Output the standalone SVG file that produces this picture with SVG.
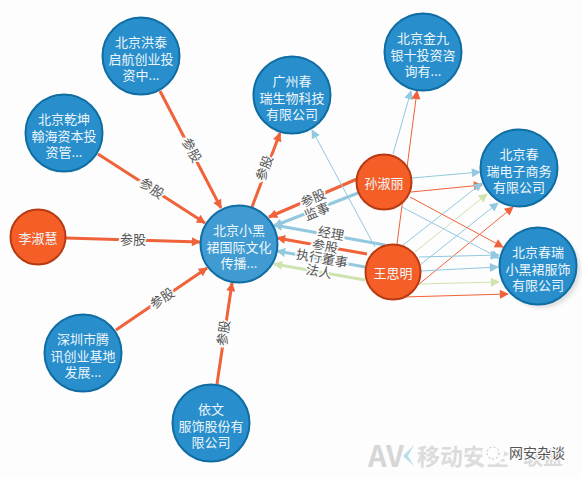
<svg xmlns="http://www.w3.org/2000/svg" width="582" height="478" viewBox="0 0 582 478">
<defs>
<marker id="ao" viewBox="0 0 10 10" refX="9" refY="5" markerWidth="11" markerHeight="9" markerUnits="userSpaceOnUse" orient="auto"><path d="M0 0L10 5L0 10z" fill="#f0623a"/></marker>
<marker id="ab" viewBox="0 0 10 10" refX="9" refY="5" markerWidth="11" markerHeight="9" markerUnits="userSpaceOnUse" orient="auto"><path d="M0 0L10 5L0 10z" fill="#93c8de"/></marker>
<marker id="ag" viewBox="0 0 10 10" refX="9" refY="5" markerWidth="11" markerHeight="9" markerUnits="userSpaceOnUse" orient="auto"><path d="M0 0L10 5L0 10z" fill="#cfe3b0"/></marker>
<filter id="sh" x="-20%" y="-20%" width="150%" height="150%"><feGaussianBlur stdDeviation="2"/></filter>
</defs>
<style>
text{font-family:"Noto Sans CJK SC","Liberation Sans",sans-serif;text-anchor:middle}
.co{fill:#288fcc;stroke:#0f6da3;stroke-width:2}
.pe{fill:#f55f27;stroke:#b83a12;stroke-width:2}
.nt{font-size:13px;fill:#eef6fb}
.lb{font-size:13px;fill:#555;stroke:#fdfdfd;stroke-width:3;paint-order:stroke}
.o{stroke:#f0623a;fill:none;marker-end:url(#ao)}
.b{stroke:#93c8de;fill:none;marker-end:url(#ab)}
.g{stroke:#cfe3b0;fill:none;marker-end:url(#ag)}
.t{stroke-width:1}.m{stroke-width:3}
</style>
<rect width="582" height="478" fill="#fdfdfd"/>
<g id="connectors">
<line class="o m" x1="160" y1="91" x2="221" y2="208"/>
<line class="o m" x1="98" y1="154" x2="205" y2="223"/>
<line class="o m" x1="66" y1="238" x2="200" y2="242"/>
<line class="o m" x1="116" y1="330" x2="207" y2="268"/>
<line class="o m" x1="217" y1="384" x2="232" y2="283"/>
<line class="o m" x1="252" y1="207" x2="280" y2="133"/>
<line class="o m" x1="357" y1="179" x2="269" y2="217"/>
<line class="b m" x1="358" y1="193" x2="274" y2="226"/>
<line class="b m" x1="385" y1="245" x2="274" y2="225"/>
<line class="o m" x1="367" y1="254" x2="277" y2="238"/>
<line class="b m" x1="365" y1="267" x2="277" y2="251"/>
<line class="g m" x1="365" y1="280" x2="274" y2="264"/>
<line class="b t" x1="375" y1="247" x2="312" y2="130"/>
<line class="b t" x1="393" y1="154" x2="411" y2="91"/>
<line class="o t" x1="397" y1="244" x2="417" y2="91"/>
<line class="b t" x1="412" y1="178" x2="480" y2="172"/>
<line class="o t" x1="411" y1="192" x2="482" y2="185"/>
<line class="b t" x1="403" y1="245" x2="482" y2="183"/>
<line class="g t" x1="415" y1="252" x2="487" y2="194"/>
<line class="b t" x1="420" y1="265" x2="498" y2="203"/>
<line class="o t" x1="418" y1="285" x2="513" y2="207"/>
<line class="o t" x1="410" y1="197" x2="503" y2="247"/>
<line class="b t" x1="402" y1="207" x2="499" y2="258"/>
<line class="b t" x1="419" y1="257" x2="499" y2="255"/>
<line class="b t" x1="420" y1="271" x2="498" y2="267"/>
<line class="g t" x1="419" y1="284" x2="499" y2="282"/>
<line class="o t" x1="403" y1="297" x2="508" y2="294"/>
</g>
<g id="edge-labels">
<text class="lb" transform="translate(192 150) rotate(62)" y="5">参股</text>
<text class="lb" transform="translate(152 188) rotate(33)" y="5">参股</text>
<text class="lb" x="133" y="244">参股</text>
<text class="lb" transform="translate(162 298) rotate(-34)" y="5">参股</text>
<text class="lb" transform="translate(223 333) rotate(-82)" y="5">参股</text>
<text class="lb" transform="translate(264 168) rotate(-70)" y="5">参股</text>
<text class="lb" transform="translate(313 198) rotate(-24)" y="5">参股</text>
<text class="lb" transform="translate(317 211) rotate(-22)" y="5">监事</text>
<text class="lb" transform="translate(331 233) rotate(10)" y="5">经理</text>
<text class="lb" transform="translate(325 246) rotate(10)" y="5">参股</text>
<text class="lb" transform="translate(322 258) rotate(10)" y="5">执行董事</text>
<text class="lb" transform="translate(319 271) rotate(10)" y="5">法人</text>
</g>
<g id="n-hongtai"><circle class="co" cx="141" cy="56" r="38.5"/><text class="nt"><tspan x="141" y="47">北京洪泰</tspan><tspan x="141" y="64">启航创业投</tspan><tspan x="141" y="80">资中...</tspan></text></g>
<g id="n-qiankun"><circle class="co" cx="64" cy="133" r="38.5"/><text class="nt"><tspan x="64" y="124">北京乾坤</tspan><tspan x="64" y="141">翰海资本投</tspan><tspan x="64" y="157">资管...</tspan></text></g>
<g id="n-lishuhui"><circle class="pe" cx="38" cy="237" r="27.5"/><text class="nt" x="38" y="243">李淑慧</text></g>
<g id="n-center"><circle cx="239" cy="244" r="38.5" fill="#3f9bd1" stroke="#0f6da3" stroke-width="2"/><text class="nt"><tspan x="239" y="235">北京小黑</tspan><tspan x="239" y="252">裙国际文化</tspan><tspan x="239" y="268">传播...</tspan></text></g>
<g id="n-guangzhou"><circle class="co" cx="292" cy="95" r="38.5"/><text class="nt"><tspan x="292" y="86">广州春</tspan><tspan x="292" y="103">瑞生物科技</tspan><tspan x="292" y="119">有限公司</tspan></text></g>
<g id="n-jinjiu"><circle class="co" cx="423" cy="52" r="38.5"/><text class="nt"><tspan x="423" y="43">北京金九</tspan><tspan x="423" y="60">银十投资咨</tspan><tspan x="423" y="76">询有...</tspan></text></g>
<g id="n-dianzi"><circle class="co" cx="519" cy="168" r="38.5"/><text class="nt"><tspan x="519" y="159">北京春</tspan><tspan x="519" y="176">瑞电子商务</tspan><tspan x="519" y="192">有限公司</tspan></text></g>
<g id="n-fushi"><circle cx="542" cy="270" r="38" fill="#ddd" filter="url(#sh)"/><circle class="co" cx="538" cy="266" r="38.5"/><text class="nt"><tspan x="538" y="257">北京春瑞</tspan><tspan x="538" y="274">小黑裙服饰</tspan><tspan x="538" y="290">有限公司</tspan></text></g>
<g id="n-sunshuli"><circle class="pe" cx="384" cy="182" r="27.5"/><text class="nt" x="384" y="188">孙淑丽</text></g>
<g id="n-wangsiming"><circle class="pe" cx="393" cy="272" r="27.5"/><text class="nt" x="393" y="278">王思明</text></g>
<g id="n-shenzhen"><circle class="co" cx="83" cy="353" r="38.5"/><text class="nt"><tspan x="83" y="344">深圳市腾</tspan><tspan x="83" y="361">讯创业基地</tspan><tspan x="83" y="377">发展...</tspan></text></g>
<g id="n-yiwen"><circle class="co" cx="211" cy="423" r="38.5"/><text class="nt"><tspan x="211" y="414">依文</tspan><tspan x="211" y="431">服饰股份有</tspan><tspan x="211" y="447">限公司</tspan></text></g>
<g id="watermark">
<text x="386" y="467" font-size="29" font-weight="700" fill="#d6d6d6" font-family="Liberation Sans">AV</text>
<path d="M414 445L403 456L414 466L408 456z" fill="#bcdcec"/>
<text x="463" y="465" font-size="23" font-weight="700" fill="#dcdcdc">移动安全</text>
<text x="543" y="465" font-size="20" font-weight="700" fill="#dcdcdc">联盟</text>
<circle cx="493" cy="453" r="11" fill="#fdfdfd"/>
<circle cx="493" cy="453" r="6" fill="none" stroke="#bbb" stroke-width="1" stroke-dasharray="2 2"/>
<text x="537" y="458" font-size="14" fill="#555" stroke="#fdfdfd" stroke-width="2" paint-order="stroke">网安杂谈</text>
</g>
</svg>
